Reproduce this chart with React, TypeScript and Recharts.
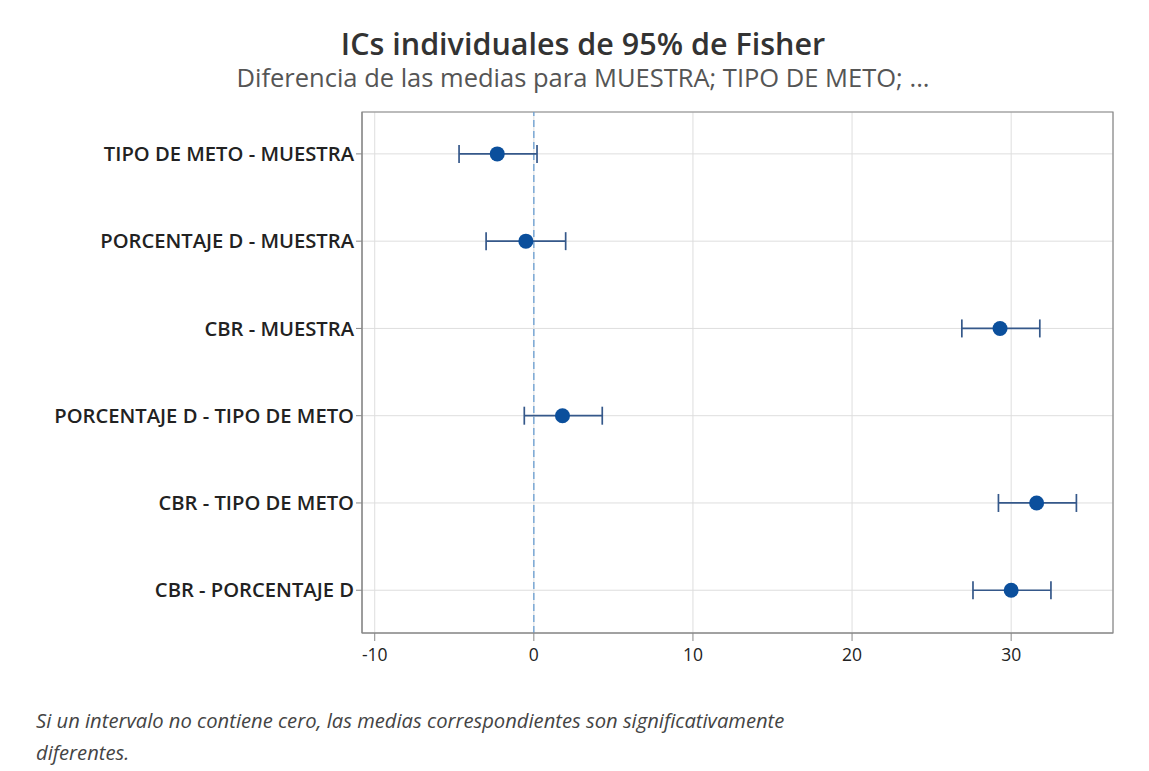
import React from 'react';
import {
  ComposedChart,
  Scatter,
  ErrorBar,
  XAxis,
  YAxis,
  CartesianGrid,
  ReferenceLine,
  ReferenceArea,
} from 'recharts';

const comparisons = [
  'TIPO DE METO - MUESTRA',
  'PORCENTAJE D - MUESTRA',
  'CBR - MUESTRA',
  'PORCENTAJE D - TIPO DE METO',
  'CBR - TIPO DE METO',
  'CBR - PORCENTAJE D',
];
const diffs = [-2.3, -0.5, 29.3, 1.8, 31.6, 30.0];
const lower = [-4.7, -3.0, 26.9, -0.6, 29.2, 27.6];
const upper = [0.2, 2.0, 31.8, 4.3, 34.1, 32.5];
const xTicks = [-10, 0, 10, 20, 30];

const data = comparisons.map((name, i) => ({
  name,
  row: i,
  diff: diffs[i],
  err: [diffs[i] - lower[i], upper[i] - diffs[i]],
}));

const FONT = '"Open Sans", "Noto Sans", sans-serif';

export default function App() {
  return (
    <div style={{ position: 'absolute', left: 0, top: 0, width: 1149, height: 771, background: '#fff', fontFamily: FONT }}>
      <div style={{ position: 'absolute', left: 0, width: 1166, top: 23, textAlign: 'center', fontSize: 30.5, fontWeight: 600, color: '#333', lineHeight: '40px' }}>
        ICs individuales de 95% de Fisher
      </div>
      <div style={{ position: 'absolute', left: 0, width: 1166, top: 61, textAlign: 'center', fontSize: 25.5, color: '#555', lineHeight: '32px' }}>
        Diferencia de las medias para MUESTRA; TIPO DE METO; ...
      </div>
      <div style={{ position: 'absolute', left: 0, top: 0 }}>
        <ComposedChart
          width={1149}
          height={771}
          data={data}
          margin={{ top: 112, right: 36, bottom: 104, left: 12 }}
        >
          <CartesianGrid stroke="#dedede" strokeWidth={1} />
          <XAxis
            type="number"
            dataKey="diff"
            domain={[-10.8, 36.4]}
            ticks={xTicks}
            allowDataOverflow
            height={34}
            tickSize={8}
            stroke="#888"
            tick={{ fill: '#222', fontSize: 17.5, fontFamily: FONT, dy: 6 }}
          />
          <YAxis
            type="number"
            dataKey="row"
            reversed
            domain={[-0.48, 5.49]}
            ticks={[0, 1, 2, 3, 4, 5]}
            allowDataOverflow
            width={350}
            tickSize={6}
            stroke="#888"
            tickFormatter={(v: number) => comparisons[v] ?? ''}
            tick={{ fill: '#222', fontSize: 20.2, fontWeight: 600, fontFamily: FONT }}
          />
          <ReferenceArea
            x1={-10.8}
            x2={36.4}
            y1={-0.48}
            y2={5.49}
            fill="none"
            stroke="#888"
            strokeWidth={1.2}
            ifOverflow="visible"
          />
          <ReferenceLine x={0} stroke="#6a9fd2" strokeDasharray="7 4" strokeWidth={1.3} />
          <Scatter dataKey="diff" fill="#0b4f9c" isAnimationActive={false} shape={(p: any) => (
            <circle cx={p.cx} cy={p.cy} r={7.5} fill="#0b4f9c" />
          )}>
            <ErrorBar dataKey="err" direction="x" width={9} stroke="#35588a" strokeWidth={1.7} isAnimationActive={false} />
          </Scatter>
        </ComposedChart>
      </div>
      <div style={{ position: 'absolute', left: 36, top: 704, fontSize: 20.2, fontStyle: 'italic', color: '#444', lineHeight: '32px', whiteSpace: 'nowrap' }}>
        Si un intervalo no contiene cero, las medias correspondientes son significativamente
        <br />
        diferentes.
      </div>
    </div>
  );
}
